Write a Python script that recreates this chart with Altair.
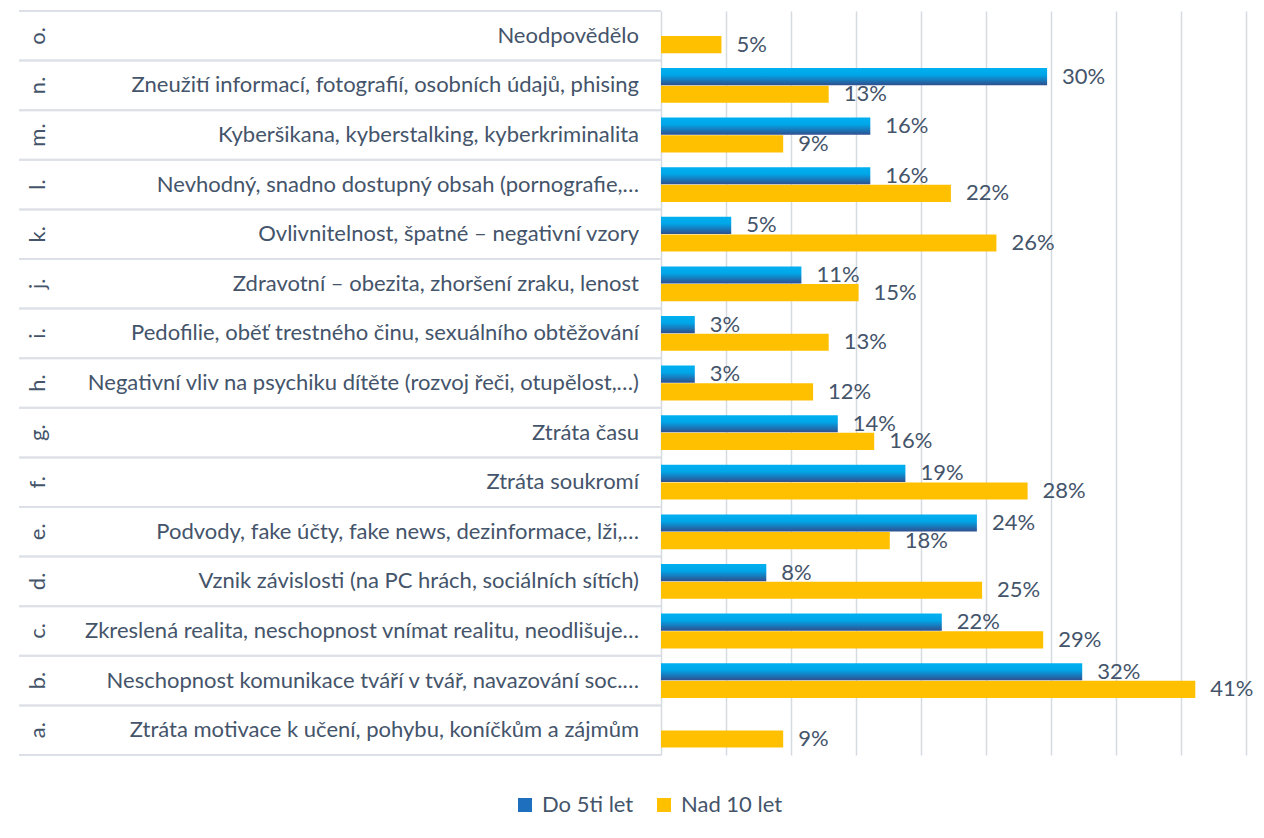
import altair as alt
import pandas as pd

# ---- data (a at bottom ... o at top) ----
keys = list("abcdefghijklmno")
letters = [k + "." for k in keys]
labels = [
    "Ztráta motivace k učení, pohybu, koníčkům a zájmům",
    "Neschopnost komunikace tváří v tvář, navazování soc.…",
    "Zkreslená realita, neschopnost vnímat realitu, neodlišuje…",
    "Vznik závislosti (na PC hrách, sociálních sítích)",
    "Podvody, fake účty, fake news, dezinformace, lži,…",
    "Ztráta soukromí",
    "Ztráta času",
    "Negativní vliv na psychiku dítěte (rozvoj řeči, otupělost,…)",
    "Pedofilie, oběť trestného činu, sexuálního obtěžování",
    "Zdravotní – obezita, zhoršení zraku, lenost",
    "Ovlivnitelnost, špatné – negativní vzory",
    "Nevhodný, snadno dostupný obsah (pornografie,…",
    "Kyberšikana, kyberstalking, kyberkriminalita",
    "Zneužití informací, fotografií, osobních údajů, phising",
    "Neodpovědělo",
]
do5 = [None, 32.4, 21.6, 8.1, 24.3, 18.8, 13.6, 2.6, 2.6, 10.8, 5.4, 16.1, 16.1, 29.7, None]
nad10 = [9.4, 41.1, 29.4, 24.7, 17.6, 28.2, 16.4, 11.7, 12.9, 15.2, 25.8, 22.3, 9.4, 12.9, 4.65]
series = ["Do 5ti let", "Nad 10 let"]

rows = []
for k, a, b in zip(keys, do5, nad10):
    if a is not None:
        rows.append({"key": k, "series": series[0], "value": a})
    if b is not None:
        rows.append({"key": k, "series": series[1], "value": b})
df = pd.DataFrame(rows)
cats = pd.DataFrame({"key": keys, "letter": letters, "label": labels})

TXT = "#44546A"
FONT = "Lato"
FS = 22
order = keys[::-1]

yscale = alt.Scale(domain=order, paddingInner=0, paddingOuter=0)
y = alt.Y("key:N", scale=yscale, axis=None)
yoff = alt.YOffset("series:N", scale=alt.Scale(domain=series, paddingInner=0.03, paddingOuter=0.42))
x = alt.X("value:Q",
          scale=alt.Scale(domain=[0, 45], nice=False, zero=True),
          axis=alt.Axis(values=list(range(0, 50, 5)), labels=False, ticks=False,
                        domain=False, grid=True, gridColor="#D6DAE1", gridWidth=1.5,
                        title=None))

grad = {
    "gradient": "linear", "x1": 0, "x2": 0, "y1": 0, "y2": 1,
    "stops": [
        {"offset": 0, "color": "#00B0F0"},
        {"offset": 0.4, "color": "#00A6E8"},
        {"offset": 1, "color": "#2F4F8F"},
    ],
}

base = alt.Chart(df)

bars_y = base.transform_filter(alt.datum.series == series[1]).mark_bar(
    fill="#FFC000").encode(
    x=x, y=y, yOffset=yoff,
    color=alt.Color("series:N",
                    scale=alt.Scale(domain=series, range=["#1E70BE", "#FFC000"]),
                    legend=alt.Legend(orient="none", legendX=-147, legendY=783,
                                      direction="horizontal", title=None,
                                      symbolType="square", symbolSize=196,
                                      symbolStrokeWidth=0,
                                      labelFontSize=FS, labelFont=FONT,
                                      labelColor=TXT, columnPadding=19,
                                      labelOffset=6)),
)
bars_b = base.transform_filter(alt.datum.series == series[0]).mark_bar(
    fill=grad).encode(x=x, y=y, yOffset=yoff)

vals = base.transform_calculate(
    lbl="format(datum.value, '.0f') + '%'"
).mark_text(align="left", baseline="middle", dx=15, fontSize=FS,
            font=FONT, color=TXT).encode(
    x=alt.X("value:Q"), y=y, yOffset=yoff, text="lbl:N")

cat_lbl = alt.Chart(cats).mark_text(
    align="right", baseline="middle", fontSize=FS, font=FONT, color=TXT
).encode(y=y, x=alt.value(-22), text="label:N")

let_lbl = alt.Chart(cats).mark_text(
    align="center", baseline="middle", angle=270, fontSize=FS, font=FONT, color=TXT
).encode(y=y, x=alt.value(-623), text="letter:N")

row_top = alt.Chart(cats).mark_rule(color="#DDE1E7", strokeWidth=2).encode(
    y=alt.Y("key:N", bandPosition=0, axis=None),
    x=alt.value(-642), x2=alt.value(0))
row_bot = alt.Chart(cats).mark_rule(color="#DDE1E7", strokeWidth=2).encode(
    y=alt.Y("key:N", bandPosition=1, axis=None),
    x=alt.value(-642), x2=alt.value(0))

border = alt.Chart(cats).mark_rule(color="#D9D9D9", strokeWidth=1.5).encode(
    x=alt.value(-656), y=alt.value(-11), y2=alt.value(827))

chart = alt.layer(
    border, row_top, row_bot, bars_y, bars_b, vals, cat_lbl, let_lbl
).properties(
    width=585, height=744,
    autosize=alt.AutoSizeParams(type="none"),
    padding={"left": 653, "top": 3, "right": 10, "bottom": 75},
    background="white",
).configure_view(stroke=None)

chart.save("out.html", embed_options={"renderer": "svg", "actions": False})
